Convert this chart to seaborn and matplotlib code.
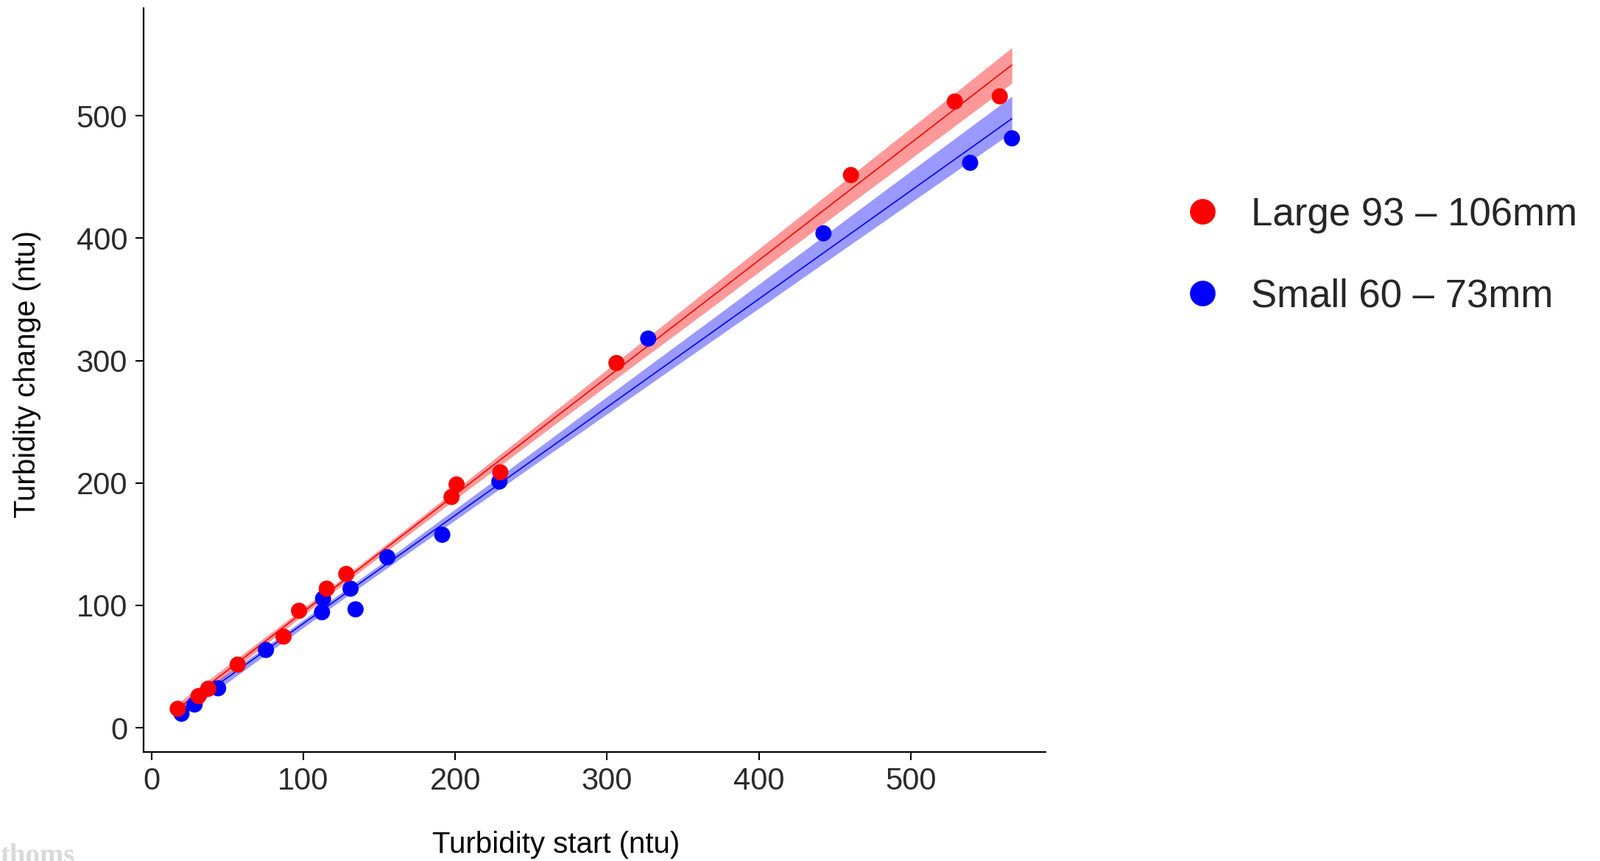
import numpy as np
import pandas as pd
import matplotlib
matplotlib.use("Agg")
import matplotlib.pyplot as plt
from matplotlib.lines import Line2D
import seaborn as sns

# ---- data ----
groups = ["Large 93 – 106mm", "Small 60 – 73mm"]
colors = ["#FF0000", "#0000FF"]
band_ci = [95, 80]

large_start = [17.3, 31.0, 37.4, 56.8, 87.0, 97.2, 115.4, 128.3, 197.6, 200.9,
               229.7, 306.2, 460.6, 529.0, 558.6]
large_change = [15.5, 25.9, 31.9, 51.6, 74.5, 95.6, 113.7, 125.7, 188.6, 198.8,
                208.7, 298.0, 451.6, 511.7, 515.9]
small_start = [19.8, 28.4, 43.9, 75.4, 112.3, 113.0, 131.1, 134.4, 155.3, 191.5,
               229.1, 327.1, 442.5, 539.1, 566.6]
small_change = [11.5, 19.0, 32.3, 63.6, 94.4, 105.5, 113.7, 96.8, 139.4, 157.7,
                201.2, 318.0, 404.0, 461.6, 481.6]

x_ticks = [0, 100, 200, 300, 400, 500]
y_ticks = [0, 100, 200, 300, 400, 500]

# small rows first so the red points are drawn on top
df = pd.concat([
    pd.DataFrame({"start": small_start, "change": small_change, "group": groups[1]}),
    pd.DataFrame({"start": large_start, "change": large_change, "group": groups[0]}),
], ignore_index=True)

sns.set_style("ticks")
plt.rcParams["font.family"] = ["Liberation Sans", "DejaVu Sans"]

fig = plt.figure(figsize=(21.73, 11.69), dpi=100)
ax = fig.add_axes([0.0899, 0.1263, 0.5638, 0.8643])

# regression lines span the overall x range of the data
ax.set_xlim(df["start"].min(), df["start"].max())
for g, c, ci in zip(groups, colors, band_ci):
    sub = df[df["group"] == g]
    sns.regplot(data=sub, x="start", y="change", scatter=False, color=c,
                truncate=False, ci=ci, seed=3, n_boot=2000,
                line_kws=dict(lw=1.2, zorder=2), ax=ax)
for coll in ax.collections:
    coll.set_alpha(0.4)
    coll.set_linewidth(0)

sns.scatterplot(data=df, x="start", y="change", hue="group", hue_order=groups,
                palette=colors, s=250, linewidth=0, legend=False, zorder=3, ax=ax)

ax.set_xlim(-5, 589)
ax.set_ylim(-20, 588)
ax.set_xticks(x_ticks)
ax.set_yticks(y_ticks)

for side in ["top", "right"]:
    ax.spines[side].set_visible(False)
for side in ["left", "bottom"]:
    ax.spines[side].set_linewidth(1.6)
    ax.spines[side].set_color("black")
ax.tick_params(axis="both", length=8, width=1.5, color="black",
               labelsize=30, labelcolor="#2B2B2B")
ax.tick_params(axis="y", pad=8)
ax.tick_params(axis="x", pad=6)

ax.set_xlabel("Turbidity start (ntu)", fontsize=29, color="black")
ax.set_ylabel("Turbidity change (ntu)", fontsize=29, color="black")
ax.xaxis.set_label_coords(0.4565, -0.1244)
ax.xaxis.label.set_va("center")
ax.yaxis.set_label_coords(-0.1293, 0.508)
ax.yaxis.label.set_va("center")

handles = [Line2D([], [], ls="", marker="o", markersize=25, color=c,
                  markeredgewidth=0) for c in colors]
fig.legend(handles, groups, loc="center left",
           bbox_to_anchor=(0.7418, 0.703), bbox_transform=fig.transFigure,
           frameon=False, fontsize=38, handlelength=0.8, handletextpad=0.85,
           labelspacing=1.16, borderpad=0, borderaxespad=0)

fig.text(0.0, -0.0034, "thoms", fontsize=28, fontweight="bold",
         family=["Liberation Serif", "DejaVu Serif"], color="#D9D9D9",
         ha="left", va="baseline")

fig.savefig("out.png", dpi=100)
